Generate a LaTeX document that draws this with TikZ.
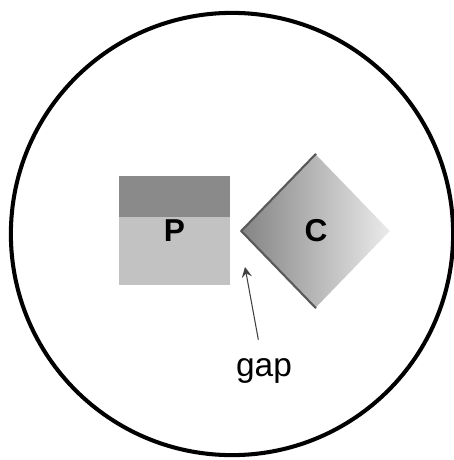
\documentclass[tikz,border=0pt]{standalone}
\usepackage{fontspec}
\setsansfont{Liberation Sans}
\usetikzlibrary{shapes.geometric,arrows,positioning}

\begin{document}
\begin{tikzpicture}[
    x=0.01cm, y=-0.01cm,
    cellwall/.style={circle, draw, line width=1.15pt, minimum size=4.42cm, inner sep=0pt},
    block/.style={rectangle, minimum width=1.11cm, minimum height=1.09cm, inner sep=0pt, font=\sffamily\bfseries\fontsize{9}{10}\selectfont},
    tilted/.style={diamond, minimum width=1.48cm, minimum height=1.53cm, inner sep=0pt, font=\sffamily\bfseries\fontsize{9}{10}\selectfont},
    tag/.style={font=\sffamily\fontsize{9.5}{11}\selectfont},
    arrow/.style={->, >=stealth, line width=0.3pt, black!75}
]

\useasboundingbox (0,0) rectangle (454,460);

% Cell boundary
\node[cellwall] (cell) at (232,234) {};

% Block P, darker band on top
\node[block, fill=black!24, path picture={
    \fill[black!46] (path picture bounding box.north west) rectangle ([yshift=-0.41cm]path picture bounding box.north east);
}] (p) at (174.5,230.5) {P};

% Block C, turned on its corner
\node[tilted, left color=black!48, middle color=black!34, right color=black!8] (c) at (316,231) {C};
\draw[black!65, line width=0.6pt] (c.north) -- (c.west) -- (c.south);

% Gap between them
\coordinate (gapmark) at (245,267);
\node[tag, anchor=base] (gaplabel) at (264,376) {gap};

% Arrow
\draw[arrow, shorten <=0.06cm] (gaplabel) -- (gapmark);

\end{tikzpicture}
\end{document}
